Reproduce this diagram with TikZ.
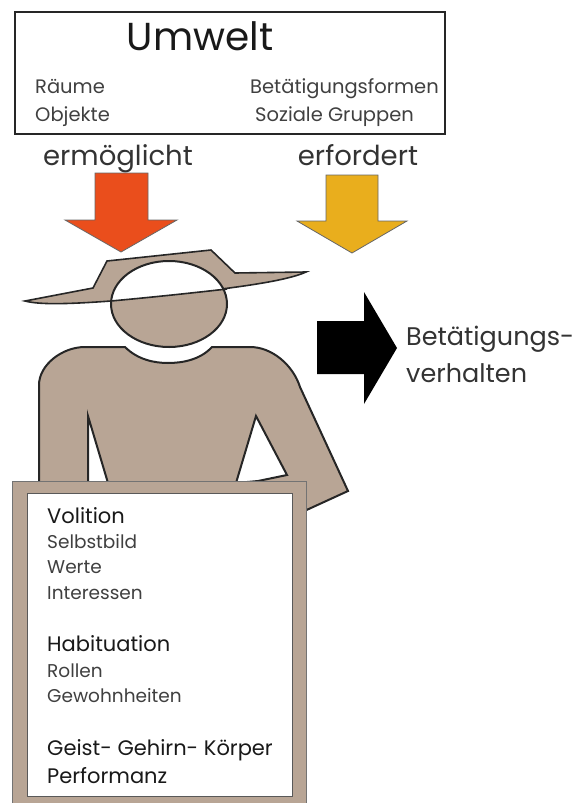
\documentclass[tikz,border=0pt]{standalone}
\usepackage{fontspec}
\setmainfont{Poppins}
\definecolor{figtan}{HTML}{B8A595}
\definecolor{arrred}{HTML}{EA4E1C}
\definecolor{arryellow}{HTML}{E9AE1D}
\begin{document}
\begin{tikzpicture}[
  x=1pt, y=-1pt,
  outline/.style={draw=black!85, line width=2pt, line join=miter},
  bigarrow/.style={draw=black!60, line width=0.8pt},
  boxtxt/.style={font=\fontsize{19.5}{19.5}\selectfont, text=black!75, inner sep=0pt, anchor=base west},
  smalltxt/.style={font=\fontsize{18.5}{18.5}\selectfont, text=black!75, inner sep=0pt, anchor=base west},
  headtxt/.style={font=\fontsize{21}{21}\selectfont, text=black!90, inner sep=0pt, anchor=base west},
  verbtxt/.style={font=\fontsize{27.5}{27.5}\selectfont, text=black!80, inner sep=0pt, anchor=base}
]
  \useasboundingbox (0,0) rectangle (573,803);

  % environment box
  \node[draw=black!85, line width=2.4pt, minimum width=430pt, minimum height=122pt, inner sep=0pt] (umweltbox) at (230,73) {};
  \node[font=\fontsize{39}{39}\selectfont, inner sep=0pt, anchor=base, text=black!90] (umwelt) at (200,50) {Umwelt};
  \node[boxtxt] (raeume) at (35,93) {Räume};
  \node[boxtxt] (objekte) at (35,121) {Objekte};
  \node[boxtxt] (formen) at (250,93) {Betätigungsformen};
  \node[boxtxt] (gruppen) at (255,121) {Soziale Gruppen};
  \node[verbtxt] (ermoeglicht) at (118,165) {ermöglicht};
  \node[verbtxt] (erfordert) at (358,165) {erfordert};

  % arrows from the environment
  \draw[bigarrow, fill=arrred] (95,173) -- (148,173) -- (148,220) -- (177,220) -- (121,252) -- (65,220) -- (95,220) -- cycle;
  \draw[bigarrow, fill=arryellow] (326,175) -- (378,175) -- (378,221) -- (407,221) -- (352,253) -- (297,221) -- (326,221) -- cycle;

  % body
  \draw[outline, fill=figtan] (39,500) -- (39,385) .. controls (39,365) and (62,347) .. (85,347)
    -- (125,347) .. controls (138,360) and (155,363) .. (168,363) .. controls (182,363) and (200,360) .. (212,347)
    -- (250,347) .. controls (272,347) and (293,365) .. (300,387) -- (348,491) -- (300,513) -- (39,513) -- cycle;
  \draw[outline, fill=white] (88,416) -- (108,483) -- (88,483) -- cycle;
  \draw[outline, fill=white] (256,416) -- (287,475) -- (258,481) -- (236,483) -- cycle;

  % hat and head
  \draw[outline, line width=1.6pt, fill=figtan] (107,261) -- (211,250) -- (235,273) -- (306,272)
    .. controls (280,284) and (200,292) .. (111,301) .. controls (70,304) and (40,305) .. (25,301) -- (93,288) -- cycle;
  \fill[figtan] (169,304) ellipse [x radius=58, y radius=43];
  \begin{scope}
    \clip (107,245) -- (240,245) -- (306,272) .. controls (280,284) and (200,292) .. (111,301) -- (100,301) -- cycle;
    \fill[white] (169,304) ellipse [x radius=58, y radius=43];
  \end{scope}
  \draw[outline] (169,304) ellipse [x radius=58, y radius=43];
  \draw[outline, line width=1.6pt] (111,301) .. controls (165,296) and (200,292) .. (227,289);

  % behaviour arrow
  \fill[black] (317,321) -- (364,321) -- (364,292) -- (397,348) -- (364,404) -- (364,374) -- (317,374) -- cycle;
  \node[font=\fontsize{25.5}{37}\selectfont, text=black!80, align=left, anchor=base west, inner sep=0pt] (verhalten) at (406,382) {Betätigungs-\\verhalten};

  % card
  \draw[draw=black!55, line width=0.8pt, fill=figtan] (12,481) rectangle (306,810);
  \draw[draw=black!65, line width=1pt, fill=white] (27,493) rectangle (292,796);
  \node[headtxt] (volition) at (47,523) {Volition};
  \node[smalltxt] (selbstbild) at (47,548) {Selbstbild};
  \node[smalltxt] (werte) at (47,573) {Werte};
  \node[smalltxt] (interessen) at (47,599) {Interessen};
  \node[headtxt] (habituation) at (47,651) {Habituation};
  \node[smalltxt] (rollen) at (47,677) {Rollen};
  \node[smalltxt] (gewohnheiten) at (47,702) {Gewohnheiten};
  \node[headtxt] (geist) at (47,755) {Geist- Gehirn- Körper};
  \node[headtxt] (performanz) at (47,783) {Performanz};
\end{tikzpicture}
\end{document}
